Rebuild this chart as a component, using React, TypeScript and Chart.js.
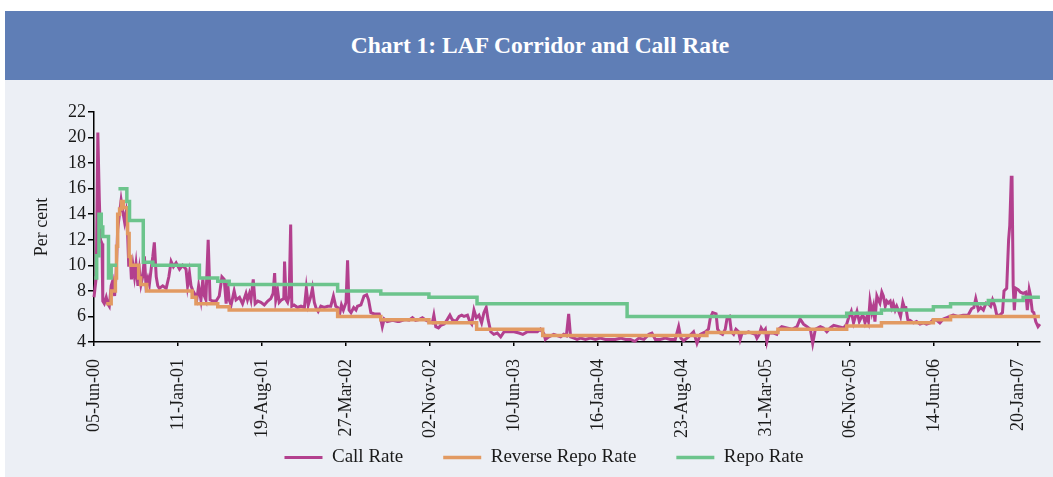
import React, { useEffect, useRef } from "react";
import { Chart, registerables } from "chart.js";

Chart.register(...registerables);

// x values are days counted from 05-Jun-2000
const tickDays = [0, 220, 440, 660, 880, 1100, 1320, 1540, 1760, 1980, 2200, 2420];
const tickLabels = [
  "05-Jun-00", "11-Jan-01", "19-Aug-01", "27-Mar-02", "02-Nov-02", "10-Jun-03",
  "16-Jan-04", "23-Aug-04", "31-Mar-05", "06-Nov-05", "14-Jun-06", "20-Jan-07",
];

const callDays = [
  0, 6, 10, 14, 17, 21, 23, 27, 32, 36, 40, 45, 49, 54, 58, 62, 67, 71, 75, 80,
  84, 88, 91, 95, 98, 102, 106, 110, 115, 119, 123, 128, 132, 136, 141, 145, 150, 154, 158, 163,
  167, 171, 180, 189, 196, 202, 208, 215, 224, 232, 241, 245, 250, 254, 259, 263, 269, 274, 280, 285,
  289, 293, 299, 304, 311, 320, 328, 335, 341, 346, 350, 354, 359, 367, 372, 381, 389, 398,
  402, 407, 411, 417, 422, 429, 437, 446, 455, 463, 469, 473, 476, 481, 485, 491, 497, 499, 503, 507,
  511, 515, 518, 524, 533, 542, 551, 556, 561, 568, 572, 577, 581, 587, 594, 603, 612, 620, 627, 633,
  638, 644, 648, 653, 660, 664, 668, 673, 680, 686, 690, 699, 707, 714, 719, 725, 734, 747, 751, 755,
  760, 768, 782, 795,
  799, 808, 816, 825, 834, 842, 851, 860, 869, 877, 886, 890, 895, 902, 908, 917, 925, 932, 938, 947,
  956, 963, 969, 978, 984, 989, 995, 1001, 1008, 1015, 1021, 1027, 1032, 1039, 1047, 1056, 1065, 1074, 1087, 1100,
  1113, 1123, 1135, 1148, 1161, 1169, 1178, 1182, 1191,
  1204, 1213, 1222, 1230, 1237, 1243, 1248, 1257, 1265, 1274, 1287, 1300, 1313, 1326, 1339, 1352, 1365, 1379, 1392, 1405,
  1416, 1427, 1440, 1453, 1461, 1470, 1483, 1496, 1509, 1522, 1531, 1537, 1544, 1557, 1570, 1575, 1579, 1588, 1601,
  1609, 1614, 1620, 1629, 1633, 1640, 1646, 1653, 1658, 1664, 1669, 1675, 1681, 1688, 1692, 1697, 1706, 1714, 1723, 1732,
  1736, 1742, 1747, 1753, 1758, 1762, 1767, 1780, 1788, 1793, 1801, 1814, 1828, 1841, 1849, 1858, 1867, 1876, 1882, 1889,
  1902, 1910, 1919, 1928, 1937, 1950, 1963, 1971, 1976, 1983, 1989, 1998, 2004, 2012,
  2015, 2019, 2024, 2028, 2032, 2037, 2041, 2045, 2050, 2054, 2058, 2063, 2067, 2072, 2076, 2080, 2085, 2089, 2093, 2098,
  2102, 2106, 2112, 2118, 2122, 2126, 2131, 2137, 2146, 2154, 2163, 2172, 2180, 2189, 2198, 2207, 2215, 2224, 2233, 2241,
  2250, 2263, 2276, 2289, 2298, 2304, 2309, 2316, 2322, 2329, 2336, 2342, 2348, 2353, 2359, 2364, 2372, 2379, 2383, 2390,
  2395, 2398, 2402, 2404, 2407, 2410, 2414, 2420, 2426, 2433, 2440, 2444, 2449, 2452, 2457, 2461, 2466, 2472, 2477,
];
const callRates = [
  7.5, 9.1, 20.4, 15.1, 12.0, 11.7, 7.2, 7.0, 7.5, 7.0, 6.8, 8.4, 8.8, 7.6, 9.4, 12.8, 14.1, 15.1, 14.3, 13.4,
  14.1, 12.5, 9.9, 10.7, 8.9, 10.0, 9.1, 10.1, 8.4, 9.6, 8.5, 9.2, 10.7, 8.5, 9.0, 8.5, 9.8, 10.7, 11.8, 9.1,
  8.4, 8.2, 8.4, 8.2, 9.1, 10.3, 9.9, 10.2, 9.7, 10.0, 9.7, 8.4, 9.4, 8.4, 8.0, 7.8, 7.3, 8.4, 7.3, 8.9,
  7.6, 7.3, 12.0, 7.3, 7.2, 7.2, 7.6, 9.1, 8.9, 7.0, 8.6, 7.3, 6.9, 8.0, 7.3, 7.5, 7.0, 7.8,
  7.3, 7.8, 7.3, 8.9, 7.0, 7.2, 7.1, 6.9, 7.2, 7.4, 7.8, 9.4, 7.3, 8.0, 7.1, 7.3, 7.4, 10.3, 7.3, 7.1,
  7.6, 13.2, 6.8, 6.9, 6.7, 6.8, 6.7, 8.2, 6.9, 7.6, 8.2, 7.1, 6.7, 6.4, 6.8, 6.7, 6.8, 6.8, 7.6, 6.8,
  6.7, 6.3, 6.9, 6.5, 7.1, 10.4, 6.5, 6.3, 6.7, 6.5, 6.8, 6.9, 7.6, 7.7, 7.3, 6.3, 6.2, 6.2, 5.8, 5.2,
  5.8, 5.6, 5.7, 5.6,
  5.6, 5.7, 5.75, 5.7, 5.9, 5.7, 5.75, 5.9, 5.7, 5.6, 5.5, 6.1, 5.2, 5.1, 5.3, 5.4, 5.75, 6.1, 5.75, 5.6,
  6.0, 6.1, 6.0, 6.1, 5.6, 5.4, 6.5, 5.9, 6.1, 5.5, 6.3, 6.7, 5.75, 4.8, 4.6, 4.7, 4.4, 4.8, 4.8, 4.8,
  4.7, 4.6, 4.8, 4.8, 4.8, 5.0, 4.65, 4.2, 4.4,
  4.6, 4.5, 4.4, 4.6, 4.5, 6.2, 4.4, 4.3, 4.2, 4.3, 4.2, 4.3, 4.2, 4.3, 4.2, 4.2, 4.2, 4.3, 4.2, 4.2,
  4.05, 4.3, 4.2, 4.6, 4.7, 4.2, 4.2, 4.3, 4.2, 4.2, 5.2, 4.3, 4.1, 4.4, 4.8, 4.3, 3.9, 4.6, 4.8,
  5.0, 5.9, 6.3, 6.2, 5.0, 4.7, 4.6, 5.0, 5.9, 6.0, 4.8, 4.6, 5.0, 4.8, 4.2, 4.7, 4.7, 4.8, 4.7, 4.6,
  4.3, 4.6, 5.1, 4.8, 5.0, 4.05, 4.7, 4.7, 4.6, 5.0, 5.2, 5.1, 5.0, 5.2, 5.8, 5.4, 5.2, 5.0, 3.9, 5.0,
  5.2, 5.1, 4.8, 5.1, 5.3, 5.2, 5.1, 5.4, 5.9, 6.4, 5.5, 6.4, 5.6, 6.1,
  6.0, 5.5, 6.0, 5.6, 7.2, 6.3, 6.8, 5.6, 7.6, 7.3, 7.05, 7.9, 7.6, 6.8, 7.2, 7.05, 7.2, 6.7, 7.05, 6.5,
  6.8, 6.5, 6.0, 7.1, 6.7, 6.7, 5.75, 5.7, 5.5, 5.6, 5.4, 5.5, 5.4, 5.5, 5.75, 5.7, 5.5, 5.8, 5.9, 6.0,
  6.1, 6.0, 6.1, 6.1, 6.6, 6.7, 7.4, 6.5, 6.7, 6.5, 7.05, 7.0, 6.8, 7.3, 6.8, 6.1, 6.1, 6.3, 8.0, 8.2,
  12.0, 13.1, 16.9, 16.9, 8.4, 6.5, 8.2, 8.1, 7.9, 7.8, 7.9, 6.5, 8.1, 7.7, 6.4, 6.3, 5.6, 5.2, 5.4,
];

// step series: value holds from its day until the next listed day
const revRepoDays = [32, 45, 56, 59, 62, 67, 72, 77, 88, 92, 96, 117, 122, 138, 257, 267, 324, 354, 638, 751, 877, 1002, 1175, 1605, 1791, 1971, 2062, 2198, 2243, 2477];
const revRepoRates = [7.0, 8.0, 9.0, 11.5, 14.0, 14.4, 15.0, 14.5, 12.5, 10.7, 10.0, 9.0, 8.5, 8.0, 7.5, 7.0, 6.75, 6.5, 6.0, 5.75, 5.5, 5.0, 4.5, 4.75, 5.0, 5.25, 5.5, 5.75, 6.0, 6.0];

const repoDays = [1, 7, 13, 19, 23, 38, 45, 60, 62, 64, 86, 93, 129, 154, 276, 324, 354, 638, 751, 877, 1003, 1396, 1971, 2062, 2198, 2243, 2342, 2433, 2477];
const repoRates = [9.0, 10.75, 14.0, 13.0, 12.25, 9.0, 10.0, 10.0, null, 16.0, 15.0, 13.5, 10.25, 10.0, 9.0, 8.75, 8.5, 8.0, 7.75, 7.5, 7.0, 6.0, 6.25, 6.5, 6.75, 7.0, 7.25, 7.5, 7.5];

const CALL_COLOR = "#b3408e";
const REV_COLOR = "#e29a62";
const REPO_COLOR = "#6cc48c";
const TEXT_COLOR = "#1a1a1a";
const SERIF = "'Liberation Serif', 'Times New Roman', serif";

// let the rotated x-axis labels run down into the (empty) space above the legend
const extendXLabelArea = {
  id: "extendXLabelArea",
  afterLayout(chart: any) {
    const x = chart.scales.x;
    if (x) x.bottom = chart.height - 28;
  },
};

export default function App() {
  const canvasRef = useRef<HTMLCanvasElement>(null);

  useEffect(() => {
    document.body.style.margin = "0";
    const canvas = canvasRef.current;
    if (!canvas) return;
    const font = { family: SERIF, size: 18 };
    const legendFont = { family: SERIF, size: 19 };
    const toPts = (xs: number[], ys: (number | null)[]) => xs.map((x, i) => ({ x, y: ys[i] }));

    const chart = new Chart(canvas, {
      type: "line",
      data: {
        datasets: [
          {
            label: "Call Rate",
            data: toPts(callDays, callRates),
            borderColor: CALL_COLOR,
            backgroundColor: CALL_COLOR,
            borderWidth: 3,
            pointRadius: 0,
            tension: 0,
            order: 3,
            clip: false,
          },
          {
            label: "Reverse Repo Rate",
            data: toPts(revRepoDays, revRepoRates),
            borderColor: REV_COLOR,
            backgroundColor: REV_COLOR,
            borderWidth: 3.5,
            pointRadius: 0,
            stepped: true,
            order: 2,
          },
          {
            label: "Repo Rate",
            data: toPts(repoDays, repoRates),
            borderColor: REPO_COLOR,
            backgroundColor: REPO_COLOR,
            borderWidth: 3.5,
            pointRadius: 0,
            stepped: true,
            order: 1,
          },
        ],
      } as any,
      options: {
        animation: false,
        responsive: false,
        maintainAspectRatio: false,
        devicePixelRatio: 1,
        layout: { padding: { left: 46, right: 11, top: 32, bottom: 0 } },
        plugins: {
          legend: {
            position: "bottom",
            labels: {
              usePointStyle: true,
              pointStyle: "line",
              pointStyleWidth: 38,
              padding: 40,
              font: legendFont,
              color: TEXT_COLOR,
              sort: (a: any, b: any) => a.datasetIndex - b.datasetIndex,
            },
          },
          tooltip: { enabled: false },
        },
        scales: {
          x: {
            type: "linear",
            min: 0,
            max: 2477,
            afterBuildTicks: (s: any) => {
              s.ticks = tickDays.map((v) => ({ value: v }));
            },
            afterFit: (s: any) => {
              s.height = 66;
            },
            ticks: {
              autoSkip: false,
              minRotation: 90,
              maxRotation: 90,
              padding: 13,
              font,
              color: TEXT_COLOR,
              callback: (_v: any, i: number) => tickLabels[i] ?? "",
            },
            grid: { drawOnChartArea: false, tickLength: 4, color: "#000", lineWidth: 1.5 },
            border: { display: true, color: "#000", width: 1.5 },
          },
          y: {
            min: 4,
            max: 22,
            afterFit: (s: any) => {
              s.width = 48;
            },
            ticks: { stepSize: 2, padding: 2, font, color: TEXT_COLOR },
            grid: { drawOnChartArea: false, tickLength: 6, color: "#000", lineWidth: 1.5 },
            border: { display: true, color: "#000", width: 1.5 },
            title: {
              display: true,
              text: "Per cent",
              font,
              color: TEXT_COLOR,
              padding: { top: -15, bottom: 0 },
            },
          },
        },
      } as any,
      plugins: [extendXLabelArea],
    });
    return () => chart.destroy();
  }, []);

  return (
    <div style={{ position: "fixed", left: 0, top: 0, width: 1053, height: 477, background: "#ffffff", overflow: "hidden" }}>
      <div style={{ position: "absolute", left: 5, top: 11, width: 1048, height: 466, background: "#eceff5" }} />
      <div
        style={{
          position: "absolute",
          left: 5,
          top: 11,
          width: 1048,
          height: 69,
          boxSizing: "border-box",
          paddingLeft: 22,
          background: "#5f7eb6",
          display: "flex",
          alignItems: "center",
          justifyContent: "center",
          color: "#ffffff",
          fontFamily: SERIF,
          fontWeight: "bold",
          fontSize: 23.5,
        }}
      >
        Chart 1: LAF Corridor and Call Rate
      </div>
      <canvas
        ref={canvasRef}
        width={1053}
        height={397}
        style={{ position: "absolute", left: 0, top: 80, width: 1053, height: 397 }}
      />
    </div>
  );
}
